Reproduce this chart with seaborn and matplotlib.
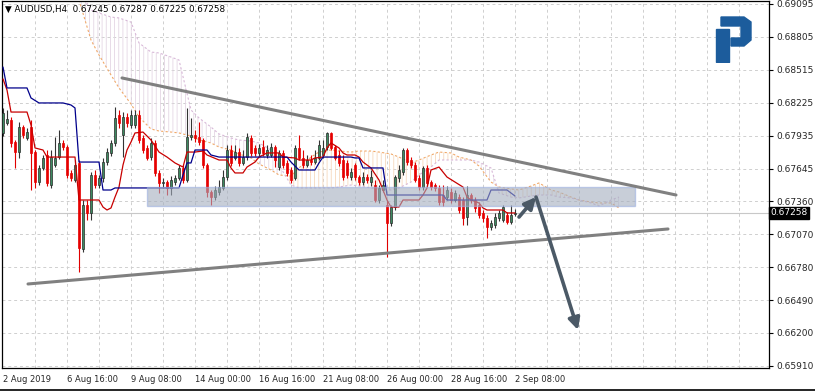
import numpy as np
import pandas as pd
import matplotlib
matplotlib.use("Agg")
import matplotlib.pyplot as plt
from matplotlib.patches import Rectangle, Polygon
from matplotlib.lines import Line2D
import seaborn as sns

# AUDUSD H4 candles, bar 0 = 2 Aug 2019 00:00
opens = [0.67960, 0.68048, 0.68074, 0.67880, 0.67792, 0.68012, 0.67916, 0.68012, 0.67792, 0.67528,
         0.67652, 0.67766, 0.67502, 0.67678, 0.67748, 0.67872, 0.67836, 0.67608, 0.67546, 0.67696,
         0.66939, 0.67326, 0.67256, 0.67590, 0.67502, 0.67564, 0.67704, 0.67784, 0.67872, 0.68118,
         0.67942, 0.68100, 0.68030, 0.68030, 0.68118, 0.67916, 0.67828, 0.67748, 0.67872, 0.67608,
         0.67520, 0.67528, 0.67476, 0.67528, 0.67564, 0.67652, 0.67546, 0.67924, 0.67942, 0.67924,
         0.67898, 0.67678, 0.67440, 0.67396, 0.67440, 0.67476, 0.67572, 0.67810, 0.67740, 0.67792,
         0.67696, 0.67748, 0.67916, 0.67828, 0.67784, 0.67836, 0.67766, 0.67766, 0.67836, 0.67660,
         0.67784, 0.67696, 0.67634, 0.67564, 0.67828, 0.67740, 0.67678, 0.67722, 0.67704, 0.67740,
         0.67766, 0.67836, 0.67960, 0.67836, 0.67766, 0.67722, 0.67696, 0.67572, 0.67678, 0.67572,
         0.67528, 0.67572, 0.67528, 0.67502, 0.67370, 0.67458, 0.67326, 0.67168, 0.67308, 0.67564,
         0.67616, 0.67810, 0.67722, 0.67678, 0.67564, 0.67484, 0.67652, 0.67528, 0.67502, 0.67476,
         0.67414, 0.67396, 0.67440, 0.67370, 0.67396, 0.67370, 0.67220, 0.67414, 0.67370, 0.67326,
         0.67256, 0.67212, 0.67132, 0.67150, 0.67212, 0.67194, 0.67238, 0.67176, 0.67245]
highs = [0.68180, 0.68162, 0.68100, 0.67898, 0.68056, 0.68030, 0.68004, 0.68074, 0.67810, 0.67678,
         0.67766, 0.67810, 0.67810, 0.67924, 0.67986, 0.67898, 0.67854, 0.67634, 0.67722, 0.67722,
         0.67370, 0.67370, 0.67616, 0.67634, 0.67590, 0.67740, 0.67828, 0.67898, 0.68188, 0.68162,
         0.68144, 0.68136, 0.68162, 0.68162, 0.68162, 0.67942, 0.67854, 0.67916, 0.67898, 0.67634,
         0.67564, 0.67546, 0.67581, 0.67590, 0.67678, 0.67678, 0.68180, 0.68092, 0.67986, 0.68056,
         0.67916, 0.67696, 0.67458, 0.67493, 0.67546, 0.67634, 0.67854, 0.67854, 0.67854, 0.67828,
         0.67810, 0.67960, 0.67942, 0.67854, 0.67863, 0.67898, 0.67854, 0.67872, 0.67854, 0.67810,
         0.67810, 0.67722, 0.67660, 0.67854, 0.67942, 0.67810, 0.67766, 0.67766, 0.67810, 0.67898,
         0.67898, 0.67968, 0.67968, 0.67854, 0.67810, 0.67766, 0.67722, 0.67652, 0.67696, 0.67590,
         0.67616, 0.67599, 0.67634, 0.67546, 0.67502, 0.67546, 0.67370, 0.67326, 0.67590, 0.67678,
         0.67828, 0.67828, 0.67748, 0.67704, 0.67590, 0.67669, 0.67678, 0.67546, 0.67520, 0.67502,
         0.67502, 0.67493, 0.67476, 0.67458, 0.67423, 0.67396, 0.67493, 0.67432, 0.67396, 0.67352,
         0.67282, 0.67238, 0.67194, 0.67256, 0.67282, 0.67326, 0.67264, 0.67326, 0.67287]
lows = [0.67933, 0.68030, 0.67836, 0.67652, 0.67740, 0.67916, 0.67898, 0.67458, 0.67476, 0.67502,
        0.67634, 0.67493, 0.67476, 0.67660, 0.67731, 0.67810, 0.67564, 0.67537, 0.67528, 0.66736,
        0.66912, 0.67194, 0.67194, 0.67476, 0.67476, 0.67528, 0.67678, 0.67757, 0.67845, 0.68004,
        0.67748, 0.68012, 0.68004, 0.68004, 0.67872, 0.67784, 0.67722, 0.67722, 0.67581, 0.67432,
        0.67476, 0.67414, 0.67414, 0.67502, 0.67546, 0.67520, 0.67528, 0.67898, 0.67880, 0.67854,
        0.67652, 0.67396, 0.67326, 0.67370, 0.67414, 0.67458, 0.67546, 0.67669, 0.67722, 0.67669,
        0.67678, 0.67722, 0.67757, 0.67757, 0.67757, 0.67757, 0.67740, 0.67748, 0.67660, 0.67634,
        0.67652, 0.67581, 0.67520, 0.67546, 0.67722, 0.67652, 0.67660, 0.67678, 0.67687, 0.67722,
        0.67740, 0.67810, 0.67810, 0.67722, 0.67669, 0.67546, 0.67564, 0.67546, 0.67546, 0.67502,
        0.67502, 0.67520, 0.67493, 0.67352, 0.67344, 0.67440, 0.66868, 0.67141, 0.67282, 0.67528,
        0.67590, 0.67678, 0.67652, 0.67528, 0.67458, 0.67458, 0.67493, 0.67458, 0.67449, 0.67326,
        0.67317, 0.67370, 0.67344, 0.67352, 0.67256, 0.67150, 0.67150, 0.67344, 0.67264, 0.67212,
        0.67176, 0.67036, 0.67106, 0.67124, 0.67185, 0.67176, 0.67159, 0.67159, 0.67225]
closes = [0.68136, 0.68083, 0.67872, 0.67792, 0.68012, 0.67942, 0.67968, 0.67784, 0.67528, 0.67652,
          0.67740, 0.67520, 0.67748, 0.67740, 0.67872, 0.67836, 0.67590, 0.67564, 0.67678, 0.66948,
          0.67326, 0.67256, 0.67590, 0.67502, 0.67564, 0.67704, 0.67792, 0.67872, 0.68092, 0.68048,
          0.68100, 0.68048, 0.68118, 0.68118, 0.67898, 0.67810, 0.67740, 0.67872, 0.67608, 0.67520,
          0.67528, 0.67476, 0.67546, 0.67564, 0.67652, 0.67546, 0.67924, 0.67942, 0.67916, 0.67880,
          0.67678, 0.67440, 0.67396, 0.67458, 0.67484, 0.67572, 0.67810, 0.67696, 0.67792, 0.67696,
          0.67748, 0.67924, 0.67784, 0.67784, 0.67828, 0.67784, 0.67810, 0.67836, 0.67722, 0.67784,
          0.67678, 0.67608, 0.67546, 0.67828, 0.67740, 0.67678, 0.67722, 0.67704, 0.67740, 0.67854,
          0.67828, 0.67960, 0.67828, 0.67740, 0.67696, 0.67572, 0.67590, 0.67616, 0.67572, 0.67528,
          0.67572, 0.67546, 0.67572, 0.67370, 0.67476, 0.67502, 0.67168, 0.67308, 0.67572, 0.67634,
          0.67810, 0.67704, 0.67678, 0.67546, 0.67484, 0.67652, 0.67520, 0.67484, 0.67476, 0.67352,
          0.67352, 0.67458, 0.67370, 0.67432, 0.67282, 0.67212, 0.67414, 0.67370, 0.67300, 0.67238,
          0.67212, 0.67132, 0.67168, 0.67220, 0.67256, 0.67308, 0.67176, 0.67238, 0.67258]

# Ichimoku lines (bar index, price)
tenkan_bar = [0, 1, 2, 6, 7, 8, 10, 11, 18, 19, 24, 25, 26, 27, 28, 29, 30, 31, 32, 33,
              35, 37, 39, 41, 43, 45, 46, 48, 50, 51, 54, 56, 57, 58, 60, 61, 63, 64, 66, 69,
              70, 73, 74, 77, 78, 80, 81, 82, 84, 85, 86, 88, 89, 90, 92, 94, 96, 97, 99, 100,
              104, 105, 106, 107, 109, 110, 111, 113, 115, 116, 117, 119, 120, 121, 125, 126, 128]
tenkan_val = [0.68435, 0.68338, 0.68144, 0.68144, 0.68030, 0.67828, 0.67810, 0.67748, 0.67748, 0.67370,
              0.67370, 0.67308, 0.67282, 0.67300, 0.67396, 0.67484, 0.67678, 0.67810, 0.67880, 0.67960,
              0.67968, 0.67898, 0.67792, 0.67748, 0.67696, 0.67660, 0.67792, 0.67792, 0.67801, 0.67766,
              0.67722, 0.67722, 0.67652, 0.67608, 0.67608, 0.67660, 0.67704, 0.67748, 0.67784, 0.67784,
              0.67748, 0.67740, 0.67722, 0.67722, 0.67740, 0.67748, 0.67828, 0.67872, 0.67828, 0.67784,
              0.67766, 0.67766, 0.67748, 0.67704, 0.67652, 0.67546, 0.67370, 0.67308, 0.67308, 0.67370,
              0.67370, 0.67414, 0.67476, 0.67634, 0.67660, 0.67616, 0.67572, 0.67528, 0.67484, 0.67396,
              0.67370, 0.67344, 0.67300, 0.67282, 0.67282, 0.67256, 0.67256]
kijun_bar = [0, 1, 6, 7, 9, 15, 17, 18, 19, 24, 25, 27, 28, 44, 45, 46, 47, 48, 51, 52,
             54, 71, 72, 74, 78, 79, 80, 87, 88, 89, 90, 95, 96, 110, 111, 121, 122, 126, 128]
kijun_val = [0.68540, 0.68356, 0.68356, 0.68268, 0.68224, 0.68224, 0.68206, 0.68180, 0.67704, 0.67704,
             0.67458, 0.67458, 0.67476, 0.67476, 0.67590, 0.67696, 0.67696, 0.67810, 0.67810, 0.67766,
             0.67748, 0.67748, 0.67704, 0.67634, 0.67634, 0.67696, 0.67748, 0.67748, 0.67740, 0.67740,
             0.67652, 0.67652, 0.67414, 0.67414, 0.67370, 0.67370, 0.67458, 0.67458, 0.67405]
cloud_bar = [19, 22, 24, 27, 29, 32, 34, 37, 39, 42, 44, 47, 49, 52, 54, 57, 59, 62, 64, 67,
             69, 72, 74, 77, 79, 82, 84, 87, 89, 92, 94, 97, 99, 102, 104, 107, 109, 112, 114, 117,
             119, 122, 124, 127, 129, 132, 134, 137, 139, 142, 144, 147, 149, 152, 154]
span_a = [0.69130, 0.68778, 0.68646, 0.68470, 0.68356, 0.68215, 0.68100, 0.67995, 0.67977, 0.67968,
          0.67960, 0.67933, 0.67898, 0.67872, 0.67836, 0.67810, 0.67775, 0.67740, 0.67687, 0.67634,
          0.67590, 0.67581, 0.67652, 0.67748, 0.67792, 0.67810, 0.67801, 0.67792, 0.67801, 0.67801,
          0.67792, 0.67775, 0.67748, 0.67696, 0.67722, 0.67766, 0.67792, 0.67784, 0.67748, 0.67722,
          0.67669, 0.67528, 0.67484, 0.67467, 0.67458, 0.67493, 0.67520, 0.67458, 0.67440, 0.67396,
          0.67370, 0.67352, 0.67344, 0.67344, 0.67300]
span_b = [0.69218, 0.69042, 0.69016, 0.68980, 0.68972, 0.68936, 0.68752, 0.68672, 0.68664, 0.68628,
          0.68602, 0.68162, 0.68092, 0.68012, 0.67951, 0.67916, 0.67898, 0.67889, 0.67872, 0.67810,
          0.67678, 0.67502, 0.67476, 0.67476, 0.67476, 0.67476, 0.67484, 0.67502, 0.67493, 0.67476,
          0.67467, 0.67458, 0.67476, 0.67528, 0.67590, 0.67660, 0.67722, 0.67722, 0.67722, 0.67722,
          0.67704, 0.67652, 0.67432, 0.67396, 0.67388, 0.67405, 0.67414, 0.67414, 0.67396, 0.67388,
          0.67370, 0.67344, 0.67317, 0.67370, 0.67396]

# drawn objects
box_bar = [36, 158]
box_price = [0.67317, 0.67484]
upper_bar = [29.75, 168.25]
upper_price = [0.68444, 0.67414]
lower_bar = [6.25, 166.25]
lower_price = [0.66631, 0.67115]
arrow_bar = [129, 133.25, 143.75]
arrow_price = [0.67220, 0.67396, 0.66226]

price_ticks = [0.69095, 0.68805, 0.68515, 0.68225, 0.67935, 0.67645, 0.67360,
               0.67070, 0.66780, 0.66490, 0.66200, 0.65910]
date_ticks = [0, 16, 32, 48, 64, 80, 96, 112, 128]
date_labels = ["2 Aug 2019", "6 Aug 16:00", "9 Aug 08:00", "14 Aug 00:00", "16 Aug 16:00",
               "21 Aug 08:00", "26 Aug 00:00", "28 Aug 16:00", "2 Sep 08:00"]

sns.set_style("white")
plt.rcParams['font.family'] = ['DejaVu Sans']
plt.rcParams['hatch.linewidth'] = 0.6

fig = plt.figure(figsize=(8.15, 3.92), dpi=100)
ax = fig.add_axes([2 / 815, 24 / 392, 767 / 815, 367 / 392])
ax.set_xlim(-0.25, 191.5)
ax.set_ylim(0.658916, 0.691212)

# grid
for v in price_ticks:
    ax.axhline(v, color="#cfcfcf", lw=0.7, ls=(0, (3, 3)), zorder=0)
for b in range(8, 192, 8):
    ax.axvline(b, color="#cfcfcf", lw=0.7, ls=(0, (3, 3)), zorder=0)
ax.axhline(closes[-1], color="#c8c8c8", lw=0.8, zorder=0.5)

# cloud
a = np.array(span_a)
b = np.array(span_b)
ax.fill_between(cloud_bar, a, b, where=a >= b, interpolate=True, facecolor="none",
                edgecolor="#f6d8bc", hatch="||||", lw=0, zorder=1)
ax.fill_between(cloud_bar, a, b, where=a < b, interpolate=True, facecolor="none",
                edgecolor="#e4d6e4", hatch="||||", lw=0, zorder=1)
sns.lineplot(x=cloud_bar, y=span_a, ax=ax, color="#f0a868", lw=0.8,
             linestyle=(0, (2, 2)), zorder=2)
sns.lineplot(x=cloud_bar, y=span_b, ax=ax, color="#d8b8d8", lw=0.8,
             linestyle=(0, (2, 2)), zorder=2)

# candles
df = pd.DataFrame({"o": opens, "h": highs, "l": lows, "c": closes})
df["bar"] = np.arange(len(df))
up = df["c"] >= df["o"]
dn = ~up
body = np.maximum((df["c"] - df["o"]).abs(), 0.00003)
ax.vlines(df["bar"][up], df["l"][up], df["h"][up], color="#333333", lw=0.8, zorder=3)
ax.vlines(df["bar"][dn], df["l"][dn], df["h"][dn], color="#e00000", lw=0.8, zorder=3)
ax.bar(df["bar"][up], body[up], bottom=df[["o", "c"]].min(axis=1)[up], width=0.7,
       color="#3d8a60", edgecolor="#2a2a2a", lw=0.5, zorder=3)
ax.bar(df["bar"][dn], body[dn], bottom=df[["o", "c"]].min(axis=1)[dn], width=0.7,
       color="#e60000", edgecolor="#e60000", lw=0.5, zorder=3)

# tenkan / kijun
sns.lineplot(x=tenkan_bar, y=tenkan_val, ax=ax, color="#c80000", lw=0.9, zorder=4)
sns.lineplot(x=kijun_bar, y=kijun_val, ax=ax, color="#00008b", lw=0.9, zorder=4)

# resistance box
ax.add_patch(Rectangle((box_bar[0], box_price[0]), box_bar[1] - box_bar[0],
                       box_price[1] - box_price[0], facecolor="#a4aebf", alpha=0.6,
                       edgecolor="#9cb0e0", lw=1, zorder=5))

# triangle lines
ax.plot(upper_bar, upper_price, color="#808080", lw=2.2, zorder=6, solid_capstyle="round")
ax.plot(lower_bar, lower_price, color="#808080", lw=2.2, zorder=6, solid_capstyle="round")

# arrows
for i in range(2):
    ax.annotate("", xy=(arrow_bar[i + 1], arrow_price[i + 1]), xytext=(arrow_bar[i], arrow_price[i]),
                arrowprops=dict(arrowstyle="-|>", color="#4b5966", lw=2.6, mutation_scale=17,
                                shrinkA=0, shrinkB=0), zorder=7)

# axes styling
ax.yaxis.tick_right()
ax.set_yticks(price_ticks)
ax.set_yticklabels([f"{v:.5f}" for v in price_ticks])
ax.set_xticks(date_ticks)
ax.set_xticklabels(date_labels, ha="left")
ax.tick_params(axis="y", labelsize=6.5, length=3, pad=2, direction="out", color="black")
ax.tick_params(axis="x", labelsize=6, length=3, pad=2, direction="out", color="black")
for s in ax.spines.values():
    s.set_color("black")
    s.set_linewidth(0.9)

ax.text(1.002, closes[-1], f"{closes[-1]:.5f}", transform=ax.get_yaxis_transform(),
        ha="left", va="center", color="white", fontsize=6.5,
        bbox=dict(boxstyle="square,pad=0.15", fc="black", ec="black"))
ax.text(0.004, 0.99, f"\u25bc AUDUSD,H4  {opens[-1]:.5f} {highs[-1]:.5f} {lows[-1]:.5f} {closes[-1]:.5f}",
        transform=ax.transAxes, va="top", ha="left", fontsize=6.3, color="black", zorder=8)

# logo
lg = fig.add_axes([713 / 815, 1 - 63 / 392, 40 / 815, 48 / 392])
lg.set_xlim(713, 753)
lg.set_ylim(63, 15)
lg.axis("off")
blue = "#1c5c9c"
lg.add_patch(Polygon([(721, 17), (744, 17), (751, 22), (751, 40), (744, 46), (731, 46),
                      (731, 38), (741, 38), (741, 26), (721, 26)], closed=True, color=blue))
lg.add_patch(Polygon([(716, 29), (729, 29), (729, 62), (716, 62)], closed=True, color=blue))

fig.add_artist(Line2D([0, 1], [2 / 392, 2 / 392], color="black", lw=1.2))

fig.savefig("out.png", dpi=100)
